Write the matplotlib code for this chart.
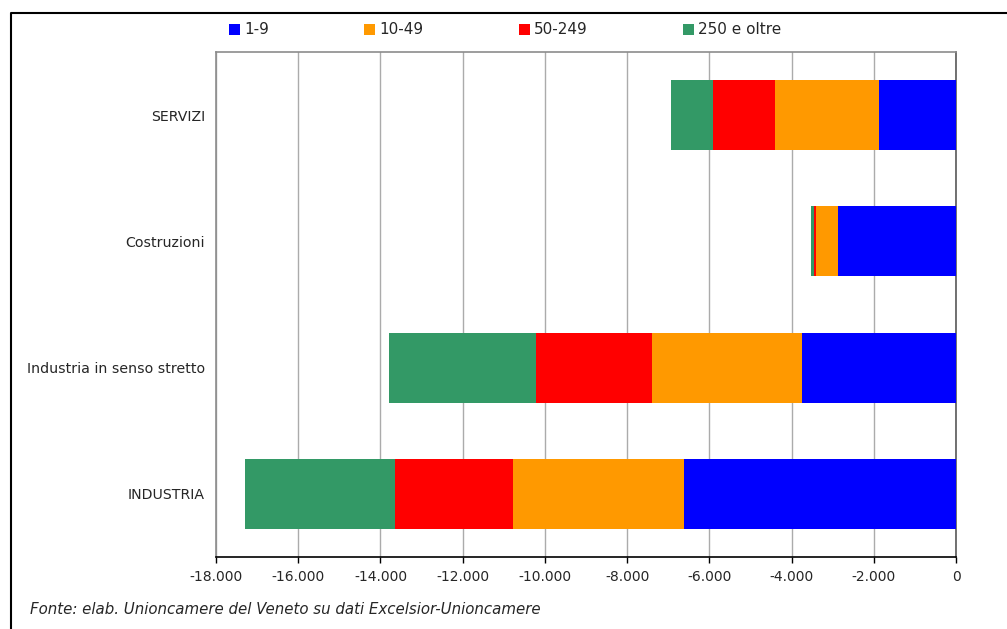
import numpy as np
import matplotlib.pyplot as plt
from matplotlib.lines import Line2D
from matplotlib.ticker import FuncFormatter

# Categorie (dall'alto in basso) e classi dimensionali
settori = ['SERVIZI', 'Costruzioni', 'Industria in senso stretto', 'INDUSTRIA']
classi = ['1-9', '10-49', '50-249', '250 e oltre']
colori = ['#0000FF', '#FF9900', '#FF0000', '#339966']

# Valori per classe (negativi), stesso ordine di settori
v_1_9 = [-1873, -2870, -3746, -6616]
v_10_49 = [-2530, -535, -3649, -4160]
v_50_249 = [-1508, -50, -2822, -2870]
v_250 = [-1022, -75, -3576, -3649]
serie = [v_1_9, v_10_49, v_50_249, v_250]

testo = '#262626'
plt.rcParams['font.family'] = 'DejaVu Sans'
plt.rcParams['font.size'] = 10

fig = plt.figure(figsize=(10.07, 6.29), dpi=100)
ax = fig.add_axes([216 / 1007, 1 - 557 / 629, 740 / 1007, 505 / 629])

y = np.arange(len(settori))
base = np.zeros(len(settori))
for vals, lab, col in zip(serie, classi, colori):
    vals = np.array(vals)
    ax.barh(y, vals, left=base, height=0.555, color=col, label=lab, zorder=3)
    base += vals

ax.set_ylim(len(settori) - 0.5, -0.5)
ax.set_xlim(-18000, 0)
ax.set_xticks(np.arange(-18000, 1, 2000))
ax.xaxis.set_major_formatter(FuncFormatter(lambda v, p: f'{v:,.0f}'.replace(',', '.')))
ax.set_yticks(y)
ax.set_yticklabels(settori, fontsize=10.2)
ax.tick_params(axis='y', length=0, pad=8, colors=testo)
ax.tick_params(axis='x', length=4.5, width=1, direction='out', pad=5, colors=testo)
ax.tick_params(axis='x', color='black')
ax.grid(axis='x', color='#ababab', lw=1, zorder=0)

for s in ['left', 'top']:
    ax.spines[s].set_color('#8c8c8c')
    ax.spines[s].set_linewidth(1.2)
ax.spines['right'].set_color('#595959')
ax.spines['right'].set_linewidth(1.2)
ax.spines['bottom'].set_color('black')
ax.spines['bottom'].set_linewidth(1.2)

fig.legend(loc='center left', bbox_to_anchor=(229 / 1007, 1 - 30 / 629), ncol=4,
           frameon=False, fontsize=11, handlelength=0.72, handleheight=0.72,
           handletextpad=0.3, columnspacing=6.2, borderpad=0, borderaxespad=0,
           labelcolor=testo)

fig.text(30 / 1007, 1 - 610 / 629,
         'Fonte: elab. Unioncamere del Veneto su dati Excelsior-Unioncamere',
         style='italic', va='center', ha='left', color=testo, fontsize=10.8)

# cornice esterna (lato sinistro e superiore)
fig.add_artist(Line2D([11 / 1007, 11 / 1007, 1], [0, 1 - 12.7 / 629, 1 - 12.7 / 629],
                      transform=fig.transFigure, color='black', lw=1.5))

fig.savefig('out.png', dpi=100)
